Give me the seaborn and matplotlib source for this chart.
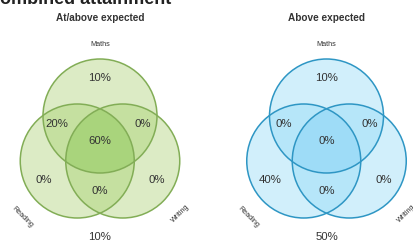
import numpy as np
import matplotlib
matplotlib.use("Agg")
import matplotlib.pyplot as plt
import seaborn as sns
from matplotlib.patches import Circle
from matplotlib.colors import ListedColormap

# --- data ---
panel_titles = ["At/above expected", "Above expected"]
set_names = ["Maths", "Reading", "Writing"]
# region order: M only, M&R, M&W, M&R&W, R only, W only, R&W, none
region_keys = ["M", "MR", "MW", "MRW", "R", "W", "RW", "none"]
at_above_pct = [10, 20, 0, 60, 0, 0, 0, 10]
above_pct = [10, 0, 0, 0, 40, 0, 0, 50]

sns.set_theme(style="white")
plt.rcParams['font.family'] = ['Liberation Sans', 'DejaVu Sans']

green = {"fills": ["#ffffff", "#dcebc5", "#c5e0a0", "#a9d47c"], "edge": "#82ad56"}
blue = {"fills": ["#ffffff", "#d1effb", "#b6e6f9", "#9edcf7"], "edge": "#2e96c4"}
styles = [green, blue]

fig = plt.figure(figsize=(4.14, 2.42), dpi=100)
ax = fig.add_axes([0, 0, 1, 1])
ax.set_xlim(0, 414)
ax.set_ylim(242, 0)
ax.set_axis_off()

r = 57
offs = {"M": (0, -22.5), "R": (-22.75, 22.5), "W": (22.75, 22.5)}
label_offs = {"M": (0, -60.5), "MR": (-43, -14.5), "MW": (43, -14.5), "MRW": (0, 2.5),
              "R": (-56, 41.5), "W": (57, 41.5), "RW": (0, 52.5), "none": (0, 98.5)}
panel_cx = [100, 326.5]
cy = 138.5

xx, yy = np.meshgrid(np.arange(0, 414, 0.5) + 0.25, np.arange(0, 242, 0.5) + 0.25)

for i, (cx, title, vals, st) in enumerate(zip(panel_cx, panel_titles, [at_above_pct, above_pct], styles)):
    count = np.zeros_like(xx)
    for k in ["M", "R", "W"]:
        ox, oy = offs[k]
        count += ((xx - cx - ox) ** 2 + (yy - cy - oy) ** 2) <= r ** 2
    mask = (xx < cx - 104) | (xx > cx + 104)
    img = np.ma.masked_where(mask | (count == 0), count)
    ax.imshow(img, cmap=ListedColormap(st["fills"]), vmin=-0.5, vmax=3.5,
              extent=(0, 414, 242, 0), interpolation="nearest", zorder=1)
    for k in ["M", "R", "W"]:
        ox, oy = offs[k]
        ax.add_patch(Circle((cx + ox, cy + oy), r, fill=False, ec=st["edge"], lw=1.1, zorder=2))

    for key, v in zip(region_keys, vals):
        dx, dy = label_offs[key]
        ax.text(cx + dx, cy + dy, f"{v}%", ha="center", va="center", fontsize=8.2, color="#333333", zorder=3)

    ax.text(cx, 18, title, ha="center", va="center", fontsize=7.2, fontweight="bold", color="#333333")
    ax.text(cx, 45, set_names[0], ha="center", va="center", fontsize=5.2, color="#333333")
    ax.text(cx - 78, cy + 79, set_names[1], ha="center", va="center", fontsize=5.2, rotation=-45,
            rotation_mode="anchor", color="#333333")
    ax.text(cx + 80, cy + 75, set_names[2], ha="center", va="center", fontsize=5.2, rotation=45,
            rotation_mode="anchor", color="#333333")

fig.text(-13 / 414, 1 - 3.5 / 242, "Combined attainment", ha="left", va="baseline",
         fontsize=13, fontweight="bold", color="#222222")

fig.savefig("out.png", dpi=100)
